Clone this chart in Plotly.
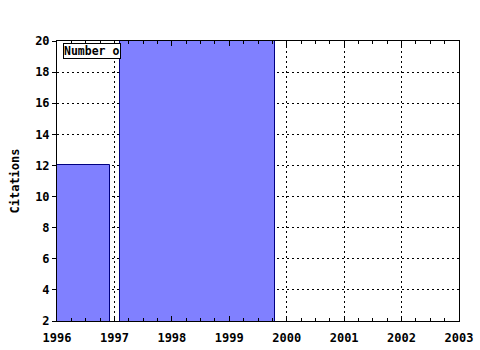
import plotly.graph_objects as go

# Data
bar_start = [1996.0, 1997.1]
bar_end = [1996.92, 1999.8]
citations = [12, 21]
x_ticks = [1996, 1997, 1998, 1999, 2000, 2001, 2002, 2003]
y_ticks = [2, 4, 6, 8, 10, 12, 14, 16, 18, 20]
legend_label = "Number o"

centers = [(a + b) / 2 for a, b in zip(bar_start, bar_end)]
widths = [b - a for a, b in zip(bar_start, bar_end)]

font_family = "DejaVu Sans Mono"

fig = go.Figure()
fig.add_trace(go.Bar(
    x=centers, y=citations, width=widths,
    marker=dict(color="#8080FF", line=dict(color="#000080", width=1)),
    showlegend=False,
))

fig.update_layout(
    width=480, height=350,
    margin=dict(l=57, r=21, t=41, b=29),
    paper_bgcolor="white", plot_bgcolor="white",
    font=dict(family=font_family, size=12, color="black"),
    xaxis=dict(
        range=[1996, 2003], tickvals=x_ticks, ticktext=[str(v) for v in x_ticks],
        showgrid=True, gridcolor="black", griddash="2px,3px", gridwidth=1,
        showline=True, linecolor="black", linewidth=1, mirror="ticks",
        ticks="inside", ticklen=5, tickcolor="black",
        minor=dict(dtick=0.25, ticks="inside", ticklen=3, tickcolor="black", showgrid=False),
        tickfont=dict(family=font_family, size=12, weight="bold"),
        ticklabelstandoff=6,
        zeroline=False, automargin=False,
    ),
    yaxis=dict(
        range=[2, 20], tickvals=y_ticks, ticktext=[str(v) for v in y_ticks],
        showgrid=True, gridcolor="black", griddash="2px,3px", gridwidth=1,
        showline=True, linecolor="black", linewidth=1, mirror=True,
        ticks="outside", ticklen=4, tickcolor="black",
        tickfont=dict(family=font_family, size=12, weight="bold"),
        title=dict(text="Citations", font=dict(family=font_family, size=12, weight="bold"), standoff=12),
        zeroline=False, automargin=False,
    ),
    bargap=0,
)

fig.add_annotation(
    xref="paper", yref="paper", x=(62.5 - 57) / 402, y=(321 - 50.5) / 280,
    xanchor="left", yanchor="middle",
    text=legend_label, showarrow=False,
    font=dict(family=font_family, size=11.5, weight="bold", color="black"),
    bgcolor="white", bordercolor="black", borderwidth=1, borderpad=0,
    width=56, align="left",
)

fig.write_html("out.html")
